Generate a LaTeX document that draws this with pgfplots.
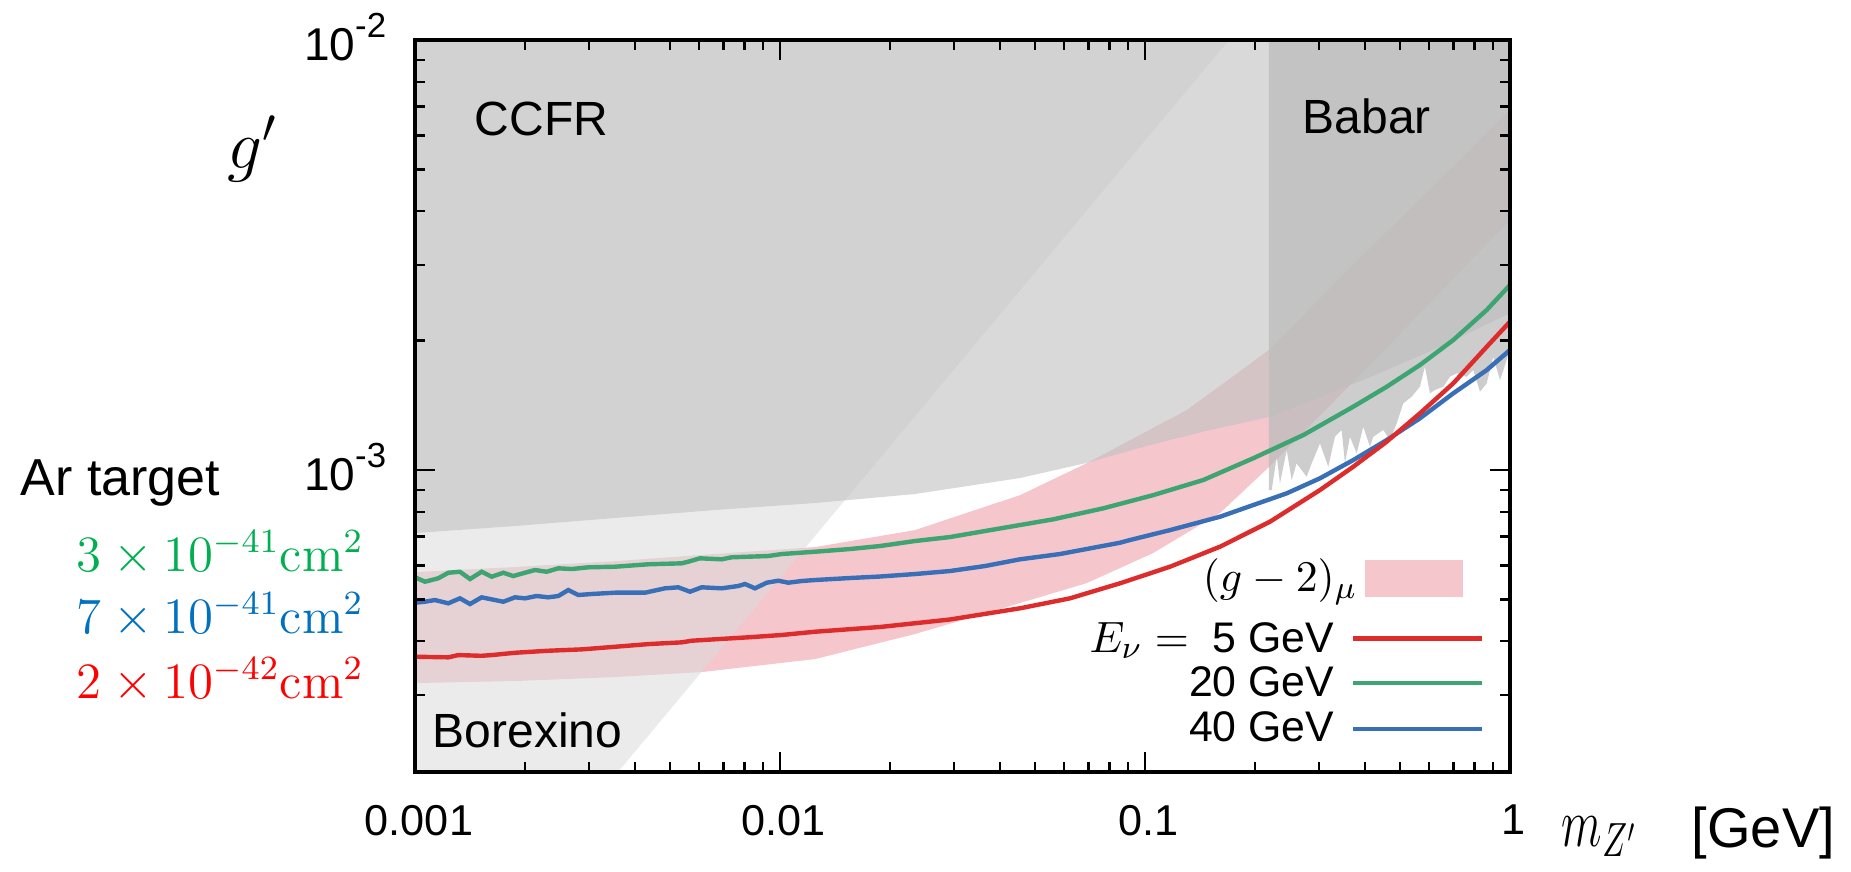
\documentclass[border=0pt]{standalone}
\usepackage{graphicx}
\usepackage[no-math]{fontspec}
\setmainfont{Liberation Sans}
\usepackage{pgfplots}
\pgfplotsset{compat=1.18}
\definecolor{pinkband}{RGB}{245,198,204}
\definecolor{borex}{RGB}{220,220,220}
\definecolor{ccfr}{RGB}{195,195,195}
\definecolor{babar}{RGB}{188,188,188}
\definecolor{lred}{RGB}{221,44,44}
\definecolor{lgreen}{RGB}{62,164,113}
\definecolor{lblue}{RGB}{57,111,183}
\definecolor{argreen}{RGB}{0,176,80}
\definecolor{arblue}{RGB}{0,112,192}
\definecolor{arred}{RGB}{255,0,0}
\newcommand{\tenpow}[1]{\mbox{10\raisebox{5.75pt}{\fontsize{8.7}{8.7}\selectfont -#1}}}
\begin{document}
\begin{tikzpicture}
\begin{axis}[
  at={(0,0)}, anchor=south west,
  scale only axis, width=273.75pt, height=183pt,
  xmode=log, ymode=log,
  xmin=1e-3, xmax=1, ymin=1.985e-4, ymax=1e-2,
  axis on top,
  axis line style={line width=0.8pt},
  tick style={line width=0.6pt, color=black},
  major tick length=5pt, minor tick length=2.5pt,
  tick align=inside,
  xtick={0.001,0.01,0.1,1},
  xticklabels={\mbox{0.001},\mbox{0.01},\mbox{0.1},\mbox{1}},
  minor xtick={0.002,0.003,0.004,0.005,0.006,0.007,0.008,0.009,0.02,0.03,0.04,0.05,0.06,0.07,0.08,0.09,0.2,0.3,0.4,0.5,0.6,0.7,0.8,0.9},
  ytick={0.001,0.01},
  yticklabels={\tenpow{3},\tenpow{2}},
  minor ytick={3e-4,4e-4,5e-4,6e-4,7e-4,8e-4,9e-4,2e-3,3e-3,4e-3,5e-3,6e-3,7e-3,8e-3,9e-3},
  xticklabel style={font=\fontsize{10.8}{10.8}\selectfont, anchor=north, inner sep=0pt, yshift=-8pt, xshift=1pt},
  yticklabel style={font=\fontsize{11.5}{11.5}\selectfont, anchor=base east, inner sep=0pt, xshift=-7pt, yshift=-5pt},
]
% (g-2)_mu band
\addplot[draw=none, fill=pinkband] coordinates {
(1e-3,5.79e-4) (1.879e-3,5.95e-4) (3.531e-3,6.14e-4) (6.636e-3,6.38e-4) (1.247e-2,6.62e-4)
(2.343e-2,7.25e-4) (4.545e-2,8.74e-4) (6.938e-2,1.038e-3) (0.1303,1.379e-3) (0.2186,1.902e-3)
(0.3645,2.950e-3) (0.6036,4.502e-3) (1,6.875e-3)
(1,3.814e-3) (0.6036,2.445e-3) (0.3645,1.576e-3) (0.2186,1.016e-3) (0.1605,7.943e-4)
(0.1052,6.411e-4) (6.938e-2,5.461e-4) (4.545e-2,4.906e-4) (2.343e-2,4.155e-4) (1.247e-2,3.634e-4)
(6.113e-3,3.390e-4) (3.531e-3,3.300e-4) (1.879e-3,3.231e-4) (1e-3,3.196e-4)
};
% Borexino
\addplot[draw=none, fill=borex, fill opacity=0.56] coordinates {
(1e-3,1.985e-4) (3.599e-3,1.985e-4) (0.1699,1e-2) (1e-3,1e-2)
};
% CCFR
\addplot[draw=none, fill=ccfr, fill opacity=0.63] coordinates {
(1e-3,7.137e-4) (1.879e-3,7.410e-4) (3.531e-3,7.735e-4) (6.636e-3,8.072e-4) (1.247e-2,8.381e-4)
(2.343e-2,8.794e-4) (4.545e-2,9.581e-4) (6.894e-2,1.038e-3) (0.1032,1.143e-3) (0.1507,1.239e-3)
(0.2186,1.328e-3) (0.4134,1.645e-3) (0.6432,1.932e-3) (1,2.318e-3) (1,1e-2) (1e-3,1e-2)
};
% Babar
\addplot[draw=none, fill=babar, fill opacity=0.75] coordinates {
(0.2186,1e-2) (0.2186,8.985e-4) (0.2224,8.985e-4) (0.2296,1.074e-3) (0.2344,9.314e-4)
(0.2445,1.113e-3) (0.2523,9.478e-4) (0.2603,1.036e-3) (0.2773,9.647e-4) (0.2862,1.036e-3)
(0.3016,1.153e-3) (0.3178,1.018e-3) (0.3315,1.195e-3) (0.3458,1.239e-3) (0.3531,1.036e-3)
(0.3644,1.195e-3) (0.3802,1.093e-3) (0.3964,1.261e-3) (0.4135,1.133e-3) (0.4222,1.195e-3)
(0.4496,1.239e-3) (0.4690,1.174e-3) (0.4893,1.284e-3) (0.5101,1.429e-3) (0.5378,1.481e-3)
(0.5666,1.562e-3) (0.5848,1.739e-3) (0.6035,1.508e-3) (0.6229,1.535e-3) (0.6565,1.562e-3)
(0.6848,1.648e-3) (0.7145,1.679e-3) (0.7609,1.648e-3) (0.7935,1.709e-3) (0.8277,1.521e-3)
(0.8634,1.591e-3) (0.9000,1.834e-3) (0.9389,1.619e-3) (1,1.902e-3) (1,1e-2)
};
% E = 20 GeV (green)
\addplot[lgreen, line width=1.1pt] coordinates {
(1.000e-3,5.630e-4) (1.065e-3,5.499e-4) (1.158e-3,5.600e-4) (1.234e-3,5.770e-4) (1.328e-3,5.801e-4)
(1.415e-3,5.579e-4) (1.523e-3,5.801e-4) (1.622e-3,5.648e-4) (1.746e-3,5.770e-4) (1.859e-3,5.669e-4)
(2.001e-3,5.770e-4) (2.132e-3,5.855e-4) (2.295e-3,5.801e-4) (2.470e-3,5.908e-4) (2.688e-3,5.886e-4)
(2.985e-3,5.940e-4) (3.531e-3,5.959e-4) (4.357e-3,6.037e-4) (5.378e-3,6.068e-4) (5.607e-3,6.121e-4)
(6.036e-3,6.233e-4) (6.923e-3,6.200e-4) (7.373e-3,6.267e-4) (8.187e-3,6.287e-4) (9.291e-3,6.310e-4)
(1.011e-2,6.378e-4) (1.247e-2,6.457e-4) (1.555e-2,6.551e-4) (1.879e-2,6.657e-4) (2.343e-2,6.838e-4)
(2.924e-2,6.986e-4) (3.645e-2,7.214e-4) (4.545e-2,7.450e-4) (5.607e-2,7.681e-4) (7.688e-2,8.146e-4)
(0.1054,8.744e-4) (0.1444,9.479e-4) (0.1980,1.065e-3) (0.2715,1.206e-3) (0.3722,1.404e-3)
(0.4594,1.562e-3) (0.5667,1.755e-3) (0.6993,2.006e-3) (0.8634,2.356e-3) (1.0,2.693e-3)
};
% E = 40 GeV (blue)
\addplot[lblue, line width=1.1pt] coordinates {
(1.000e-3,4.914e-4) (1.065e-3,4.940e-4) (1.134e-3,4.985e-4) (1.234e-3,4.898e-4) (1.328e-3,5.031e-4)
(1.415e-3,4.880e-4) (1.523e-3,5.058e-4) (1.746e-3,4.940e-4) (1.879e-3,5.058e-4) (2.001e-3,5.031e-4)
(2.155e-3,5.094e-4) (2.318e-3,5.058e-4) (2.470e-3,5.094e-4) (2.630e-3,5.260e-4) (2.802e-3,5.121e-4)
(3.049e-3,5.149e-4) (3.531e-3,5.185e-4) (4.267e-3,5.185e-4) (4.842e-3,5.308e-4) (5.265e-3,5.337e-4)
(5.668e-3,5.213e-4) (6.102e-3,5.337e-4) (6.923e-3,5.308e-4) (7.687e-3,5.374e-4) (8.019e-3,5.432e-4)
(8.541e-3,5.308e-4) (9.195e-3,5.470e-4) (9.893e-3,5.529e-4) (1.054e-2,5.470e-4) (1.147e-2,5.520e-4)
(1.247e-2,5.549e-4) (1.555e-2,5.609e-4) (1.879e-2,5.654e-4) (2.343e-2,5.730e-4) (2.924e-2,5.823e-4)
(3.645e-2,5.981e-4) (4.545e-2,6.200e-4) (5.850e-2,6.378e-4) (8.541e-2,6.776e-4) (9.097e-2,6.875e-4)
(0.1171,7.250e-4) (0.1605,7.788e-4) (0.1980,8.291e-4) (0.2445,8.827e-4) (0.3016,9.566e-4)
(0.3722,1.055e-3) (0.4594,1.174e-3) (0.5667,1.319e-3) (0.6993,1.508e-3) (0.8634,1.708e-3)
(1.0,1.902e-3)
};
% E = 5 GeV (red)
\addplot[lred, line width=1.1pt] coordinates {
(1.000e-3,3.680e-4) (1.234e-3,3.668e-4) (1.314e-3,3.713e-4) (1.523e-3,3.699e-4) (1.622e-3,3.713e-4)
(1.879e-3,3.759e-4) (2.318e-3,3.800e-4) (2.862e-3,3.828e-4) (3.531e-3,3.882e-4) (4.357e-3,3.938e-4)
(5.378e-3,3.975e-4) (5.729e-3,4.009e-4) (6.636e-3,4.040e-4) (8.187e-3,4.083e-4) (1.011e-2,4.134e-4)
(1.247e-2,4.207e-4) (1.879e-2,4.315e-4) (2.924e-2,4.492e-4) (4.545e-2,4.769e-4) (6.231e-2,5.031e-4)
(8.541e-2,5.452e-4) (0.1171,5.959e-4) (0.1605,6.632e-4) (0.2200,7.583e-4) (0.3016,8.984e-4)
(0.3722,1.018e-3) (0.4594,1.164e-3) (0.5667,1.355e-3) (0.6993,1.591e-3) (0.8634,1.935e-3)
(1.0,2.213e-3)
};
\end{axis}
% region labels
\node[anchor=base west, inner sep=0pt, font=\fontsize{12}{12}\selectfont] at (14.75pt,159.25pt) {CCFR};
\node[anchor=base west, inner sep=0pt, font=\fontsize{12}{12}\selectfont] at (221.75pt,159.75pt) {Babar};
\node[anchor=base west, inner sep=0pt, font=\fontsize{12}{12}\selectfont] at (4.25pt,6.25pt) {Borexino};
% axis titles
\node[anchor=base west, inner sep=0pt, font=\fontsize{17.28}{17.28}\selectfont] at (-47pt,151pt) {$g'$};
\node[anchor=base west, inner sep=0pt, font=\fontsize{14.4}{14.4}\selectfont] at (286.5pt,-18.5pt) {\scalebox{0.82}[1.2]{$m_{Z'}$}};
\node[anchor=base west, inner sep=0pt, font=\fontsize{14}{14}\selectfont] at (319pt,-18.9pt) {[GeV]};
% left annotations
\node[anchor=base west, inner sep=0pt, font=\fontsize{13}{13}\selectfont] at (-98.75pt,69.25pt) {Ar target};
\node[anchor=base west, inner sep=0pt, font=\fontsize{12}{12}\selectfont, text=argreen] at (-84.75pt,50.25pt) {\scalebox{1.06}{$3\times10^{-41}\mathrm{cm}^2$}};
\node[anchor=base west, inner sep=0pt, font=\fontsize{12}{12}\selectfont, text=arblue] at (-84.75pt,34.75pt) {\scalebox{1.06}{$7\times10^{-41}\mathrm{cm}^2$}};
\node[anchor=base west, inner sep=0pt, font=\fontsize{12}{12}\selectfont, text=arred] at (-84.75pt,18.5pt) {\scalebox{1.06}{$2\times10^{-42}\mathrm{cm}^2$}};
% legend
\node[anchor=base east, inner sep=0pt, font=\fontsize{10.95}{11}\selectfont] at (235.75pt,45.08pt) {$(g-2)_\mu$};
\fill[pinkband] (237.5pt,43.8pt) rectangle (261.9pt,53pt);
\node[anchor=base east, inner sep=0pt, font=\fontsize{10.7}{10.7}\selectfont] at (230pt,30pt) {{\fontsize{10.95}{11}\selectfont$E_\nu =$}\hspace{6pt}5 GeV};
\node[anchor=base east, inner sep=0pt, font=\fontsize{10.7}{10.7}\selectfont] at (230pt,18.8pt) {20 GeV};
\node[anchor=base east, inner sep=0pt, font=\fontsize{10.7}{10.7}\selectfont] at (230pt,7.6pt) {40 GeV};
\draw[lred, line width=1.1pt] (234.6pt,33.4pt) -- (266.7pt,33.4pt);
\draw[lgreen, line width=1.1pt] (234.6pt,22.2pt) -- (266.7pt,22.2pt);
\draw[lblue, line width=1.1pt] (234.6pt,10.75pt) -- (266.7pt,10.75pt);
\pgfresetboundingbox
\path[use as bounding box] (-103.75pt,-24.75pt) rectangle (359pt,193pt);
\end{tikzpicture}
\end{document}
